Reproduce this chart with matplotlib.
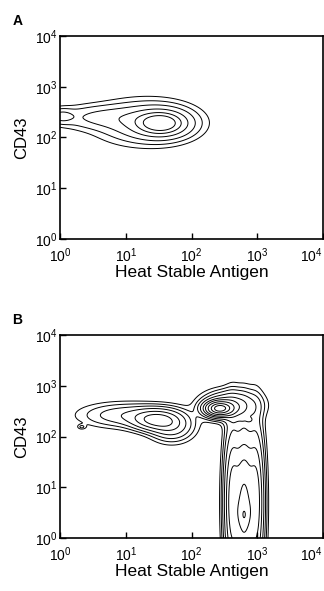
import numpy as np
import matplotlib
matplotlib.use("Agg")
import matplotlib.pyplot as plt

plt.rcParams['font.family'] = ['Liberation Sans', 'DejaVu Sans']
plt.rcParams['mathtext.default'] = 'regular'

# populations as (log10 HSA, log10 CD43, spread x, spread y, peak height)
pops_a_x = [1.55, 1.30, 0.60, 0.02]
pops_a_y = [2.28, 2.30, 2.40, 2.42]
pops_a_sx = [0.25, 0.42, 0.42, 0.12]
pops_a_sy = [0.16, 0.24, 0.14, 0.09]
pops_a_w = [1.00, 0.35, 0.20, 0.20]

pops_b_x = [1.45, 1.00, 1.70, 2.42, 2.60, 2.62, 2.80, 2.98, 2.80, 0.33, 2.88]
pops_b_y = [2.33, 2.42, 2.20, 2.55, 2.62, 0.70, 0.60, 0.70, 0.45, 2.19, 2.33]
pops_b_sx = [0.22, 0.42, 0.20, 0.13, 0.25, 0.08, 0.08, 0.08, 0.05, 0.04, 0.03]
pops_b_sy = [0.13, 0.15, 0.18, 0.09, 0.17, 0.90, 0.90, 0.90, 0.15, 0.03, 0.03]
pops_b_w = [0.35, 0.13, 0.20, 1.00, 0.30, 0.45, 0.55, 0.45, 0.20, 0.05, 0.05]

levels_a = [0.03, 0.07, 0.15, 0.30, 0.50, 0.70]
levels_b = [0.02, 0.04, 0.07, 0.12, 0.20, 0.30, 0.45, 0.65, 0.85]

ticks = [1, 10, 100, 1000, 10000]
tick_labels = [r'$10^{0}$', r'$10^{1}$', r'$10^{2}$', r'$10^{3}$', r'$10^{4}$']

gx, gy = np.meshgrid(np.linspace(0, 4, 400), np.linspace(0, 4, 400))


def density(xs, ys, sxs, sys_, ws):
    z = np.zeros_like(gx)
    for x0, y0, sx, sy, w in zip(xs, ys, sxs, sys_, ws):
        z += w * np.exp(-0.5 * (((gx - x0) / sx) ** 2 + ((gy - y0) / sy) ** 2))
    return z


fig = plt.figure(figsize=(3.24, 5.91), dpi=100)
ax_a = fig.add_axes([60 / 324, 1 - 239 / 591, 263 / 324, 203 / 591])
ax_b = fig.add_axes([60 / 324, 1 - 538 / 591, 263 / 324, 203 / 591])

panels = [
    (ax_a, density(pops_a_x, pops_a_y, pops_a_sx, pops_a_sy, pops_a_w), levels_a, 'A'),
    (ax_b, density(pops_b_x, pops_b_y, pops_b_sx, pops_b_sy, pops_b_w), levels_b, 'B'),
]

for ax, z, lev, letter in panels:
    ax.contour(10 ** gx, 10 ** gy, z, levels=[l * z.max() for l in lev],
               colors='black', linewidths=0.7)
    ax.set_xscale('log')
    ax.set_yscale('log')
    ax.set_xlim(1, 10000)
    ax.set_ylim(1, 10000)
    ax.set_xticks(ticks)
    ax.set_xticklabels(tick_labels)
    ax.set_yticks(ticks)
    ax.set_yticklabels(tick_labels)
    ax.minorticks_off()
    ax.tick_params(direction='in', length=4, width=1, labelsize=10)
    ax.tick_params(axis='x', pad=5)
    ax.tick_params(axis='y', pad=2)
    ax.get_xticklabels()[-1].set_horizontalalignment('right')
    for s in ax.spines.values():
        s.set_linewidth(1.2)
    ax.set_xlabel('Heat Stable Antigen', fontsize=12.5, labelpad=0)
    ax.set_ylabel('CD43', fontsize=12, labelpad=4)
    ax.text(-0.162, 1.074, letter, transform=ax.transAxes, fontsize=10,
            fontweight='bold', va='center', ha='center')

fig.savefig('out.png', dpi=100)
